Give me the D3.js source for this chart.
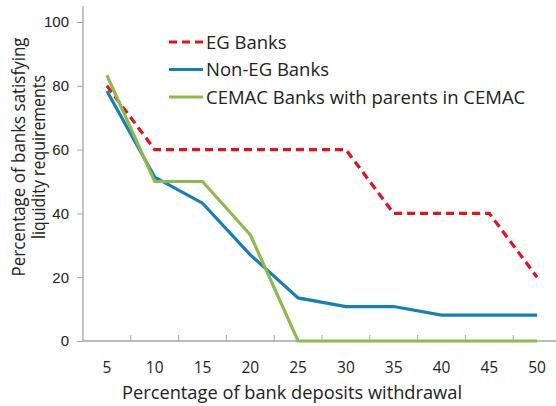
<!DOCTYPE html>
<html>
<head>
<meta charset="utf-8">
<script src="https://cdn.jsdelivr.net/npm/d3@7.9.0/dist/d3.min.js"></script>
<style>
  body { margin: 0; background: #fff; }
  svg { font-family: "Open Sans", "Noto Sans", sans-serif; }
</style>
</head>
<body>
<svg id="chart" width="556" height="406"></svg>
<script>
const withdrawal = ['5', '10', '15', '20', '25', '30', '35', '40', '45', '50'];
const egBanks = [80, 60, 60, 60, 60, 60, 40, 40, 40, 20];
const nonEgBanks = [78.4, 51.4, 43.2, 27, 13.5, 10.8, 10.8, 8.1, 8.1, 8.1];
const cemacBanks = [83.3, 50, 50, 33.3, 0, 0, 0, 0, 0, 0];
const yTicks = [0, 20, 40, 60, 80, 100];

const series = [
  { name: 'EG Banks', values: egBanks, color: '#e8101a', dash: '8,5' },
  { name: 'Non-EG Banks', values: nonEgBanks, color: '#1380b6', dash: null },
  { name: 'CEMAC Banks with parents in CEMAC', values: cemacBanks, color: '#8cbb4c', dash: null }
];

const svg = d3.select('#chart');
const plotLeft = 83, plotRight = 561, plotTop = 22, plotBottom = 341;

const x = d3.scaleBand().domain(withdrawal).range([plotLeft, plotRight]).padding(0);
const y = d3.scaleLinear().domain([0, 100]).range([plotBottom, plotTop]);

const axisColor = '#a6a6a6';

// y axis line (extends a bit above 100)
svg.append('line')
  .attr('x1', plotLeft).attr('x2', plotLeft)
  .attr('y1', 6).attr('y2', plotBottom)
  .attr('stroke', axisColor).attr('stroke-width', 1.3);

const yAxis = svg.append('g')
  .attr('transform', `translate(${plotLeft},0)`)
  .call(d3.axisLeft(y).tickValues(yTicks).tickSize(6).tickPadding(8));
yAxis.select('.domain').remove();
yAxis.selectAll('line').attr('stroke', axisColor);
yAxis.selectAll('text').attr('font-size', 15).attr('fill', '#222');

// x axis
svg.append('line')
  .attr('x1', plotLeft).attr('x2', 556)
  .attr('y1', plotBottom).attr('y2', plotBottom)
  .attr('stroke', axisColor).attr('stroke-width', 1.3);

svg.append('g').selectAll('line')
  .data(withdrawal.slice(1))
  .join('line')
  .attr('x1', d => x(d)).attr('x2', d => x(d))
  .attr('y1', plotBottom).attr('y2', plotBottom - 6)
  .attr('stroke', axisColor);

svg.append('g').selectAll('text')
  .data(withdrawal)
  .join('text')
  .attr('x', d => x(d) + x.bandwidth() / 2)
  .attr('y', 373)
  .attr('text-anchor', 'middle')
  .attr('font-size', 15.5)
  .attr('fill', '#222')
  .text(d => d);

// lines
const line = d3.line()
  .x((d, i) => x(withdrawal[i]) + x.bandwidth() / 2)
  .y(d => y(d));

series.forEach(s => {
  svg.append('path')
    .datum(s.values)
    .attr('d', line)
    .attr('fill', 'none')
    .attr('stroke', s.color)
    .attr('stroke-width', 3.2)
    .attr('stroke-dasharray', s.dash);
});

// legend
const legend = svg.append('g');
series.forEach((s, i) => {
  const ly = 42 + i * 27.5;
  legend.append('line')
    .attr('x1', 169).attr('x2', 203)
    .attr('y1', ly).attr('y2', ly)
    .attr('stroke', s.color)
    .attr('stroke-width', 3.2)
    .attr('stroke-dasharray', s.dash);
  legend.append('text')
    .attr('x', 206).attr('y', ly + 6.5)
    .attr('font-size', 18.5)
    .attr('fill', '#222')
    .text(s.name);
});

// axis titles
svg.append('text')
  .attr('x', 292).attr('y', 399)
  .attr('text-anchor', 'middle')
  .attr('font-size', 19)
  .attr('textLength', 340)
  .attr('lengthAdjust', 'spacingAndGlyphs')
  .attr('fill', '#222')
  .text('Percentage of bank deposits withdrawal');

const yTitle = svg.append('text')
  .attr('transform', 'translate(25,157) rotate(-90)')
  .attr('text-anchor', 'middle')
  .attr('font-size', 19)
  .attr('fill', '#222');
yTitle.append('tspan').attr('x', 0).attr('y', 0)
  .attr('textLength', 239).attr('lengthAdjust', 'spacingAndGlyphs')
  .text('Percentage of banks satisfying');
yTitle.append('tspan').attr('x', 0).attr('y', 20)
  .attr('textLength', 164).attr('lengthAdjust', 'spacingAndGlyphs')
  .text('liquidity requirements');
</script>
</body>
</html>
